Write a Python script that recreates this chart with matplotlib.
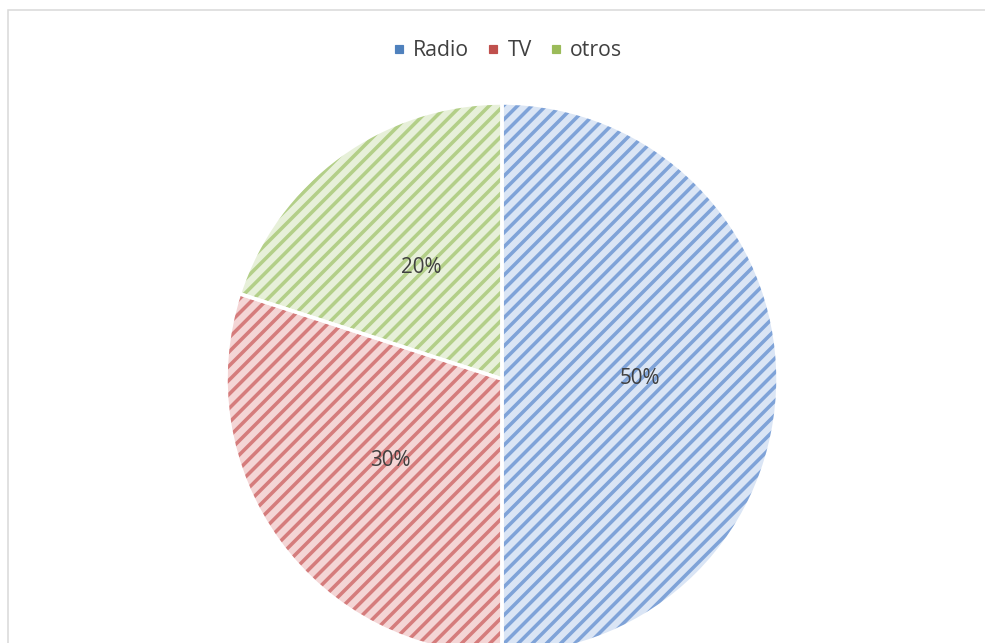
import matplotlib
matplotlib.use("Agg")
import matplotlib.pyplot as plt
from matplotlib.lines import Line2D
from matplotlib.patches import Rectangle

categories = ["Radio", "TV", "otros"]
values = [50, 30, 20]
legend_colors = ["#4F81BD", "#C0504D", "#9BBB59"]
face_colors = ["#dae5f5", "#f4d5d5", "#e7f0d9"]
hatch_colors = ["#7fa3d8", "#d57c7c", "#b3cf88"]

DPI = 85
plt.rcParams["font.family"] = ["Open Sans", "DejaVu Sans"]
plt.rcParams["hatch.linewidth"] = 3.0

fig = plt.figure(figsize=(985 / DPI, 643 / DPI), dpi=DPI)
fig.patch.set_facecolor("white")

# chart frame
fig.patches.append(Rectangle((8 / 985, -0.05), 1.2, 1 - 10 / 643 + 0.05,
                             transform=fig.transFigure, fill=False,
                             edgecolor="#d9d9d9", linewidth=1.3))

ax = fig.add_axes([226 / 985, (643 - 655) / 643, 552 / 985, 552 / 643])
ax.set_xlim(-1, 1)
ax.set_ylim(-1, 1)
ax.set_aspect("equal")
ax.axis("off")

wedges, texts, autotexts = ax.pie(
    values, startangle=90, counterclock=False, radius=1,
    colors=face_colors, autopct="%1.0f%%", pctdistance=0.5,
    textprops=dict(color="#404040", fontsize=17.5),
    wedgeprops=dict(linewidth=0, hatch="//"))
for w, hc in zip(wedges, hatch_colors):
    w.set_edgecolor(hc)
    w.set_linewidth(0)

# white separators
ax.pie(values, startangle=90, counterclock=False, radius=1,
       colors=["none"] * len(values),
       wedgeprops=dict(linewidth=3, edgecolor="white", fill=False))
ax.set_xlim(-1, 1)
ax.set_ylim(-1, 1)

handles = [Line2D([], [], linestyle="none", marker="s", markersize=7.5,
                  markerfacecolor=c, markeredgecolor=c) for c in legend_colors]
fig.legend(handles, categories, loc="center", bbox_to_anchor=(508 / 985, 1 - 51 / 643),
           ncol=3, frameon=False, fontsize=18, labelcolor="#404040",
           handlelength=0.45, handletextpad=0.45, columnspacing=0.9)

fig.savefig("out.png", dpi=DPI, facecolor="white")
